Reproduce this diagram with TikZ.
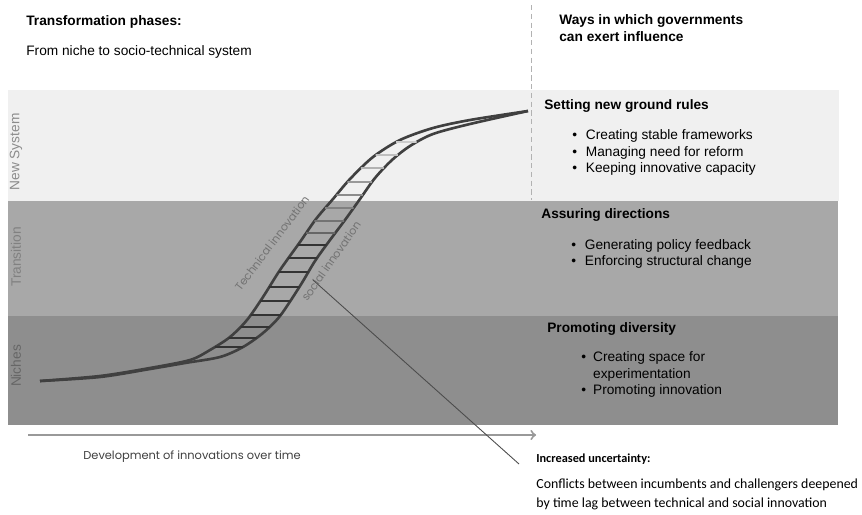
\documentclass[tikz,border=0pt]{standalone}
\usepackage{fontspec}
\setmainfont{Liberation Sans}
\newfontfamily\geofont{Poppins}
\newfontfamily\calfont{Carlito}
\usepackage{xcolor}
\usepackage{tikz}
\usetikzlibrary{positioning, calc, intersections}
\definecolor{newsys}{RGB}{240,240,240}
\definecolor{transit}{RGB}{168,168,168}
\definecolor{nichegray}{RGB}{142,142,142}

\tikzset{
  body/.style={inner sep=0pt, anchor=west, align=left, font=\fontsize{7.8}{9.4}\selectfont},
  head/.style={body, font=\fontsize{7.8}{9.4}\selectfont\bfseries},
  phase/.style={inner sep=0pt, rotate=90, font=\fontsize{7.8}{9.4}\selectfont},
  strand/.style={black!75, line width=1.5pt},
  rungline/.style={line width=1.1pt},
  curvelabel/.style={inner sep=0pt, black!55, font=\geofont\fontsize{6.3}{7}\selectfont},
  divider/.style={black!30, line width=0.4pt, dash pattern=on 3pt off 2pt},
}

\begin{document}
\begin{tikzpicture}[x=0.02cm, y=-0.02cm]
      \useasboundingbox (0,0) rectangle (862,514);
      \fill[white] (0,0) rectangle (862,514);

      % phase bands
      \fill[newsys] (8,90) rectangle (839,201);
      \fill[transit] (8,201) rectangle (838,316);
      \fill[nichegray] (8,316) rectangle (838,425);
      \draw[divider] (531,5) -- (531,200);

      \node[phase, black!45] (newlbl) at (16,152) {New System};
      \node[phase, black!50] (translbl) at (16,257) {Transition};
      \node[phase, black!60] (nichelbl) at (16,366) {Niches};

      % titles
      \node[head] (title) at (26,22) {Transformation phases:};
      \node[body] (subtitle) at (26,52) {From niche to socio-technical system};
      \node[head] (govhead) at (559,28) {Ways in which governments\\can exert influence};

      \node[head] (rulehead) at (544,106) {Setting new ground rules};
      \node[body] (rulelist) at (572,153) {\begin{tabular}{@{}l@{\hspace{5pt}}l@{}}
        \textbullet & Creating stable frameworks\\
        \textbullet & Managing need for reform\\
        \textbullet & Keeping innovative  capacity\end{tabular}};

      \node[head] (dirhead) at (541,215) {Assuring directions};
      \node[body] (dirlist) at (571,254) {\begin{tabular}{@{}l@{\hspace{5pt}}l@{}}
        \textbullet & Generating policy feedback\\
        \textbullet & Enforcing structural change\end{tabular}};

      \node[head] (divhead) at (547,329) {Promoting diversity};
      \node[body] (divlist) at (581,375) {\begin{tabular}{@{}l@{\hspace{4pt}}l@{}}
        \textbullet & Creating space for\\
                    & experimentation\\
        \textbullet & Promoting innovation\end{tabular}};

      % the two strands
      \draw[strand, name path=tech] plot[smooth] coordinates { (40,381) (100,376) (150,368) (190,360) (210,350) (230,337) (247,320) (263,297) (280,270) (300,242) (316,219) (333,199) (350,179) (373,157) (400,140) (433,128) (470,120) (528,111) };
      \draw[strand, name path=soc] plot[smooth] coordinates { (40,381) (100,377) (150,369) (185,363) (220,357) (243,347) (263,333) (280,316) (300,286) (315,261) (330,240) (345,220) (360,199) (375,178) (392,160) (410,146) (433,134) (470,124) (528,111) };

      % rungs
      \foreach \ry/\rc in {142/20, 155/25, 168/30, 182/40, 195/45, 208/50, 221/55, 233/60, 245/80, 258/80, 272/80, 287/80, 301/80, 315/80, 327/80, 338/80, 347/80} {
        \path[name path=rung] (150,\ry) -- (500,\ry);
        \draw[rungline, black!\rc, name intersections={of=tech and rung, by=rl}, name intersections={of=soc and rung, by=rr}] (rl) -- (rr);
      }

      \node[curvelabel, rotate=53] (techlbl) at (272,243) {Technical innovation};
      \node[curvelabel, rotate=55] (soclbl) at (331,261) {social innovation};

      % time axis
      \coordinate (t0) at (28,435);
      \coordinate (t1) at (536,435);
      \draw[black!40, line width=1.1pt, ->] (t0) -- (t1);
      \node[inner sep=0pt, anchor=west, black!75, font=\geofont\fontsize{6.5}{8}\selectfont] (timelbl) at (83,457) {Development of innovations over time};

      % uncertainty note
      \coordinate (lagpt) at (313,280);
      \coordinate (lagend) at (519,464);
      \draw[black!70, line width=0.5pt] (lagpt) -- (lagend);
      \node[inner sep=0pt, anchor=west, font=\calfont\fontsize{7}{9}\selectfont\bfseries] (riskhead) at (536,459) {Increased uncertainty:};
      \node[inner sep=0pt, anchor=west, align=left, font=\calfont\fontsize{7.9}{10.8}\selectfont] (risktext) at (536,494) {Conflicts between incumbents  and challengers deepened\\by time lag between technical and social innovation};
    \end{tikzpicture}
\end{document}
